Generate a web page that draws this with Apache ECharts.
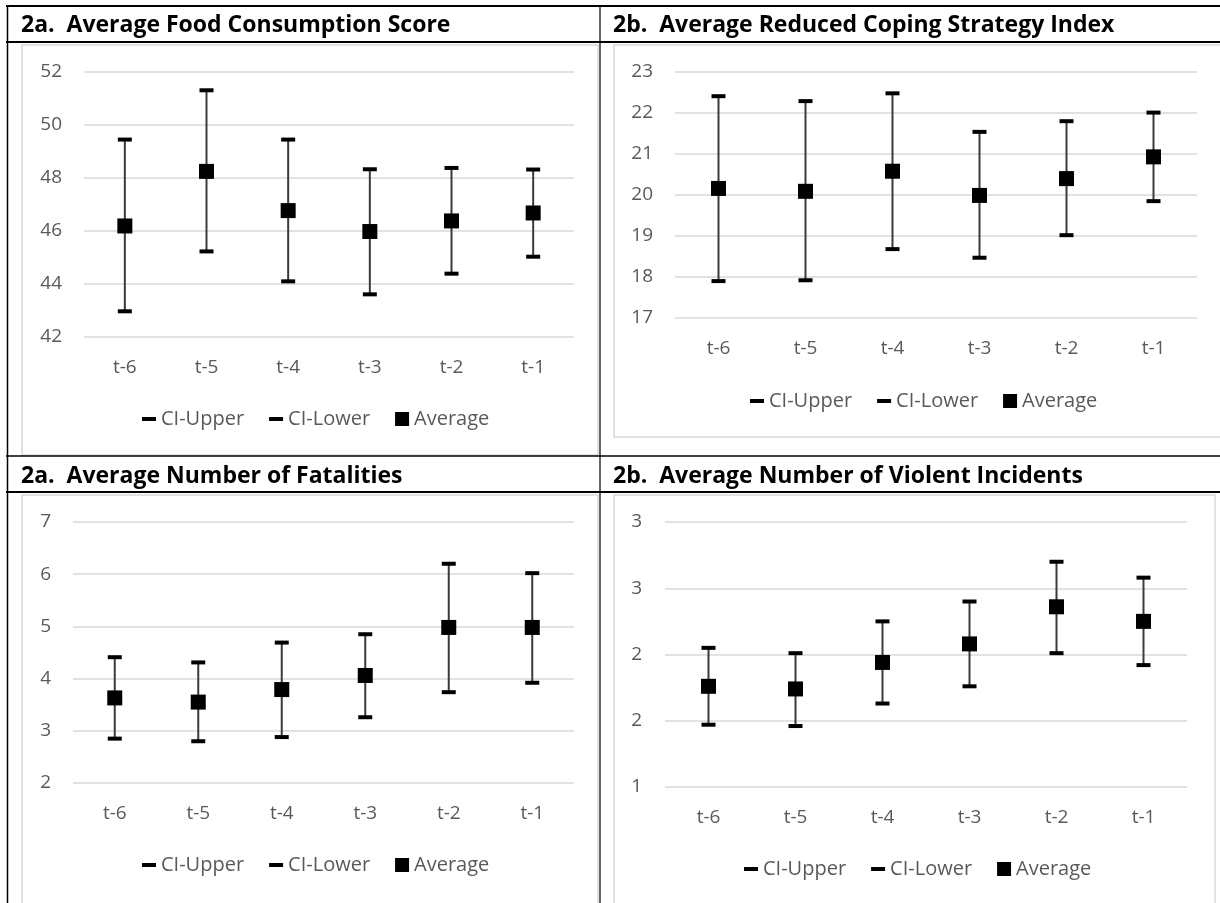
<!DOCTYPE html>
<html>
<head>
<meta charset="utf-8">
<script src="https://cdn.jsdelivr.net/npm/echarts@6/dist/echarts.min.js"></script>
<style>
  html, body { margin: 0; padding: 0; background: #fff; }
  #chart { width: 1220px; height: 903px; }
</style>
</head>
<body>
<div id="chart"></div>
<script>
// Periods before the event
const categories = ['t-6', 't-5', 't-4', 't-3', 't-2', 't-1'];

// 2a. Average Food Consumption Score
const fcsUpper   = [49.45, 51.31, 49.45, 48.33, 48.38, 48.32];
const fcsAverage = [46.19, 48.25, 46.77, 45.98, 46.38, 46.68];
const fcsLower   = [42.97, 45.23, 44.10, 43.61, 44.39, 45.03];
const fcsTicks   = [42, 52, 2]; // min, max, step

// 2b. Average Reduced Coping Strategy Index
const rcsiUpper   = [22.41, 22.29, 22.48, 21.54, 21.80, 22.01];
const rcsiAverage = [20.16, 20.09, 20.58, 19.99, 20.40, 20.93];
const rcsiLower   = [17.90, 17.92, 18.68, 18.47, 19.02, 19.85];
const rcsiTicks   = [17, 23, 1];

// 2a. Average Number of Fatalities
const fatalUpper   = [4.41, 4.31, 4.69, 4.85, 6.20, 6.02];
const fatalAverage = [3.63, 3.55, 3.79, 4.06, 4.98, 4.98];
const fatalLower   = [2.85, 2.80, 2.88, 3.26, 3.74, 3.92];
const fatalTicks   = [2, 7, 1];

// 2b. Average Number of Violent Incidents
const violentUpper   = [2.05, 2.01, 2.25, 2.40, 2.70, 2.58];
const violentAverage = [1.76, 1.74, 1.94, 2.08, 2.36, 2.25];
const violentLower   = [1.47, 1.46, 1.63, 1.76, 2.01, 1.92];
const violentTicks   = [1, 3, 0.5];

const panelTitles = [
  '2a.  Average Food Consumption Score',
  '2b.  Average Reduced Coping Strategy Index',
  '2a.  Average Number of Fatalities',
  '2b.  Average Number of Violent Incidents'
];

const FONT = '"Open Sans", Lato, sans-serif';
const GRAY = '#595959';

const panels = [
  { upper: fcsUpper, avg: fcsAverage, lower: fcsLower, ticks: fcsTicks,
    grid: { left: 84, top: 72, width: 490, height: 265 }, labelMargin: 22,
    legend: { left: 142, top: 409 }, title: { left: 21, top: 14 } },
  { upper: rcsiUpper, avg: rcsiAverage, lower: rcsiLower, ticks: rcsiTicks,
    grid: { left: 675, top: 72, width: 522, height: 246 }, labelMargin: 22,
    legend: { left: 750, top: 391 }, title: { left: 613, top: 14 } },
  { upper: fatalUpper, avg: fatalAverage, lower: fatalLower, ticks: fatalTicks,
    grid: { left: 73, top: 522, width: 501, height: 261 }, labelMargin: 22,
    legend: { left: 142, top: 855 }, title: { left: 21, top: 465 } },
  { upper: violentUpper, avg: violentAverage, lower: violentLower, ticks: violentTicks,
    grid: { left: 665, top: 522, width: 522, height: 265 }, labelMargin: 23,
    legend: { left: 744, top: 859 }, title: { left: 613, top: 465 }, roundLabels: true }
];

// Short thick dash inside a square box, used as the CI legend marker
const dashIcon = 'path://M0,0M14,14M0,5h14v4h-14z';

const grid = [], xAxis = [], yAxis = [], series = [], legend = [], title = [];

panels.forEach((p, k) => {
  grid.push(Object.assign({ containLabel: false }, p.grid));
  xAxis.push({
    type: 'category', gridIndex: k, data: categories, boundaryGap: true,
    axisLine: { show: false }, axisTick: { show: false },
    axisLabel: { color: GRAY, fontFamily: FONT, fontSize: 19, margin: 21 }
  });
  yAxis.push({
    type: 'value', gridIndex: k, min: p.ticks[0], max: p.ticks[1], interval: p.ticks[2],
    axisLine: { show: false }, axisTick: { show: false },
    splitLine: { lineStyle: { color: '#d9d9d9', width: 1.5 } },
    axisLabel: {
      color: GRAY, fontFamily: FONT, fontSize: 19, margin: p.labelMargin,
      formatter: p.roundLabels ? (v) => String(Math.round(v)) : (v) => String(v)
    }
  });

  // vertical whisker from lower to upper bound
  series.push({
    type: 'custom', name: 'range', xAxisIndex: k, yAxisIndex: k, z: 1,
    encode: { x: 0, y: [1, 2] },
    data: categories.map((c, i) => [i, p.lower[i], p.upper[i]]),
    renderItem: (params, api) => {
      const a = api.coord([api.value(0), api.value(1)]);
      const b = api.coord([api.value(0), api.value(2)]);
      return {
        type: 'line',
        shape: { x1: a[0], y1: a[1], x2: b[0], y2: b[1] },
        style: { stroke: '#3a3a3a', lineWidth: 2 }
      };
    },
    silent: true
  });
  const markStyle = { color: '#000', opacity: 1 };
  series.push({
    type: 'scatter', name: 'CI-Upper', xAxisIndex: k, yAxisIndex: k, z: 3,
    symbol: 'rect', symbolSize: [14, 4], itemStyle: markStyle,
    data: categories.map((c, i) => [i, p.upper[i]])
  });
  series.push({
    type: 'scatter', name: 'CI-Lower', xAxisIndex: k, yAxisIndex: k, z: 3,
    symbol: 'rect', symbolSize: [14, 4], itemStyle: markStyle,
    data: categories.map((c, i) => [i, p.lower[i]])
  });
  series.push({
    type: 'scatter', name: 'Average', xAxisIndex: k, yAxisIndex: k, z: 4,
    symbol: 'rect', symbolSize: 15, itemStyle: markStyle,
    data: categories.map((c, i) => [i, p.avg[i]])
  });

  legend.push({
    left: p.legend.left, top: p.legend.top, orient: 'horizontal', padding: 0,
    itemWidth: 14, itemHeight: 14, itemGap: 25, selectedMode: false,
    itemStyle: { color: '#000', opacity: 1 },
    textStyle: { color: GRAY, fontFamily: FONT, fontSize: 20 },
    data: [
      { name: 'CI-Upper', icon: dashIcon },
      { name: 'CI-Lower', icon: dashIcon },
      { name: 'Average', icon: 'rect' }
    ]
  });

  title.push({
    text: panelTitles[k], left: p.title.left, top: p.title.top, padding: 0,
    textStyle: { color: '#000', fontFamily: FONT, fontSize: 23, fontWeight: 'bold' }
  });
});

// Table frame and plot-area boxes
const BOX = '#d9d9d9';
const line = (x1, y1, x2, y2, w) => ({
  type: 'line', silent: true, z: 10,
  shape: { x1, y1, x2, y2 }, style: { stroke: '#000', lineWidth: w }
});
const box = (x, y, w, h) => ({
  type: 'rect', silent: true, z: 0,
  shape: { x, y, width: w, height: h }, style: { fill: 'none', stroke: BOX, lineWidth: 1.5 }
});
const graphic = [
  box(22, 45, 576, 410),
  box(614, 45, 610, 392),
  box(22, 495, 576, 410),
  box(614, 495, 601, 410),
  line(6, 6, 1220, 6, 2),
  line(6, 42, 1220, 42, 2),
  line(6, 456, 1220, 456, 1.5),
  line(6, 492, 1220, 492, 2),
  line(7.5, 5, 7.5, 903, 1.5),
  line(600, 5, 600, 903, 1.2)
];

const chart = echarts.init(document.getElementById('chart'), null, { renderer: 'canvas' });
chart.setOption({
  animation: false,
  backgroundColor: '#fff',
  title, grid, xAxis, yAxis, series, legend, graphic
});
</script>
</body>
</html>
